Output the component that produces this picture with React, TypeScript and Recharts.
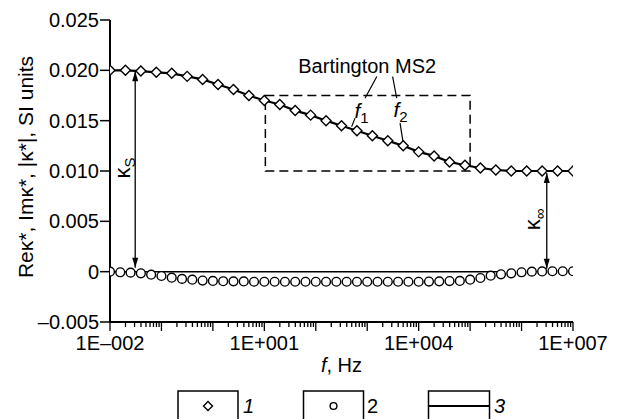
import React from 'react';
import {
  ComposedChart,
  Line,
  Scatter,
  XAxis,
  YAxis,
  ReferenceLine,
  ReferenceArea,
  ReferenceDot,
} from 'recharts';

const FONT = '"Liberation Sans", Arial, Helvetica, sans-serif';

// log10(f, Hz) of the diamond points (series 1) and line (series 3)
const diamondLogF = [
  -2, -1.7, -1.4, -1.1, -0.8, -0.5, -0.2, 0.1, 0.4, 0.7, 1, 1.3, 1.6, 1.9, 2.2, 2.5,
  2.8, 3.1, 3.4, 3.7, 4, 4.3, 4.6, 4.9, 5.2, 5.5, 5.8, 6.1, 6.4, 6.7, 7,
];
const diamondValues = [
  0.02, 0.02, 0.01993, 0.0198, 0.0197, 0.0194, 0.0191, 0.0186, 0.0181, 0.0175, 0.017,
  0.0166, 0.016, 0.01555, 0.015, 0.0145, 0.014, 0.0135, 0.013, 0.0125, 0.0119, 0.0115,
  0.0109, 0.01057, 0.0103, 0.0101, 0.01, 0.01, 0.01, 0.01, 0.01,
];

// log10(f, Hz) of the circle points (series 2)
const circleLogF = [
  -2, -1.8, -1.6, -1.4, -1.2, -1, -0.8, -0.6, -0.4, -0.2, 0, 0.2, 0.4, 0.6, 0.8, 1, 1.2,
  1.4, 1.6, 1.8, 2, 2.2, 2.4, 2.6, 2.8, 3, 3.2, 3.4, 3.6, 3.8, 4, 4.2, 4.4, 4.6, 4.8, 5,
  5.2, 5.4, 5.6, 5.8, 6, 6.2, 6.4, 6.6, 6.8, 7,
];
const circleValues = [
  0, -0.00006, -0.0001, -0.00016, -0.0003, -0.00043, -0.0006, -0.00072, -0.0008,
  -0.00088, -0.00092, -0.00095, -0.00096, -0.00097, -0.001, -0.001, -0.001, -0.001,
  -0.001, -0.001, -0.001, -0.001, -0.001, -0.001, -0.001, -0.001, -0.001, -0.001,
  -0.001, -0.001, -0.001, -0.00098, -0.00096, -0.00093, -0.00092, -0.0008, -0.00063,
  -0.0004, -0.00026, -0.00016, -0.00006, 0, 0.00002, 0.00004, 0.00004, 0.00004,
];

// zero line (series 3, lower part)
const zeroLineLogF = [-2, 5.6];
const zeroLineValues = [0, 0];

const yTicks = [-0.005, 0, 0.005, 0.01, 0.015, 0.02, 0.025];
const xLabelTicks = [-2, 1, 4, 7];
const xDecades = [-2, -1, 0, 1, 2, 3, 4, 5, 6, 7];
const minorMultipliers = [2, 3, 4, 5, 6, 7, 8, 9];

const diamondData = diamondLogF.map((x, i) => ({ x, y: diamondValues[i] }));
const circleData = circleLogF.map((x, i) => ({ x, y: circleValues[i] }));
const zeroData = zeroLineLogF.map((x, i) => ({ x, y: zeroLineValues[i] }));

const xTicks: number[] = [];
xDecades.forEach((d) => {
  xTicks.push(d);
  if (d < 7) minorMultipliers.forEach((m) => xTicks.push(d + Math.log10(m)));
});

const fmtX = (v: number) => {
  const a = Math.abs(Math.round(v));
  return '1E' + (v < 0 ? '\u2013' : '+') + String(a).padStart(3, '0');
};
const fmtY = (v: number) => {
  if (Math.abs(v) < 1e-12) return '0';
  return v < 0 ? '\u2013' + Math.abs(v).toFixed(3) : v.toFixed(3);
};

const Diamond = (p: any) => {
  const { cx, cy } = p;
  const s = 5;
  return (
    <path
      d={`M${cx},${cy - s}L${cx + s},${cy}L${cx},${cy + s}L${cx - s},${cy}Z`}
      fill="#fff"
      stroke="#000"
      strokeWidth={1.4}
    />
  );
};
const Circle = (p: any) => (
  <circle cx={p.cx} cy={p.cy} r={4.4} fill="#fff" stroke="#000" strokeWidth={1.4} />
);

const XTick = (p: any) => {
  const { x, y, payload } = p;
  const v = payload.value;
  const isMajor = Math.abs(v - Math.round(v)) < 1e-9;
  const labeled = isMajor && xLabelTicks.indexOf(Math.round(v)) >= 0;
  return (
    <g>
      <line x1={x} x2={x} y1={y} y2={y + (isMajor ? 9 : 5)} stroke="#000" strokeWidth={1.3} />
      {labeled && (
        <text x={x} y={y + 28} textAnchor="middle" fontSize={20} fill="#000" fontFamily={FONT}>
          {fmtX(v)}
        </text>
      )}
    </g>
  );
};

const ArrowUp = (p: any) => (
  <path d={`M${p.cx},${p.cy}L${p.cx - 3},${p.cy + 10}L${p.cx + 3},${p.cy + 10}Z`} fill="#000" />
);
const ArrowDown = (p: any) => (
  <path d={`M${p.cx},${p.cy}L${p.cx - 3},${p.cy - 10}L${p.cx + 3},${p.cy - 10}Z`} fill="#000" />
);

const TextAt = (content: React.ReactNode, rotate = false, size = 20) => (p: any) => (
  <text
    x={p.cx}
    y={p.cy}
    textAnchor="middle"
    fontSize={size}
    fill="#000"
    fontFamily={FONT}
    transform={rotate ? `rotate(-90 ${p.cx} ${p.cy})` : undefined}
  >
    {content}
  </text>
);

const YLabel = (p: any) => {
  const vb = p.viewBox || { x: 50, y: 20, width: 60, height: 302 };
  const cx = vb.x - 17;
  const cy = vb.y + vb.height / 2 - 4;
  return (
    <text
      x={cx}
      y={cy}
      textAnchor="middle"
      fontSize={21}
      fill="#000"
      fontFamily={FONT}
      transform={`rotate(-90 ${cx} ${cy})`}
    >
      Reκ*, Imκ*, |κ*|, SI units
    </text>
  );
};

const XLabel = (p: any) => {
  const vb = p.viewBox || { x: 110, y: 322, width: 463, height: 40 };
  return (
    <text x={vb.x + vb.width / 2} y={vb.y + 50} textAnchor="middle" fontSize={20} fill="#000" fontFamily={FONT}>
      <tspan fontStyle="italic">f</tspan>, Hz
    </text>
  );
};

const LegendOverlay = () => (
  <svg width={624} height={419} style={{ position: 'absolute', left: 0, top: 0, pointerEvents: 'none' }}>
    <g fill="none" stroke="#000" strokeWidth={1.5}>
      <rect x={178} y={391} width={60} height={40} />
      <rect x={303.5} y={391} width={60} height={40} />
      <rect x={428.5} y={391} width={61} height={40} />
    </g>
    <path d="M208,401.5L212.5,406L208,410.5L203.5,406Z" fill="#fff" stroke="#000" strokeWidth={1.4} />
    <circle cx={333.5} cy={406} r={3.4} fill="#fff" stroke="#000" strokeWidth={1.4} />
    <line x1={428.5} x2={489.5} y1={406} y2={406} stroke="#000" strokeWidth={2} />
    <g fontSize={20} fill="#000" fontFamily={FONT}>
      <text x={243} y={413} fontStyle="italic">1</text>
      <text x={367} y={413}>2</text>
      <text x={494} y={413} fontStyle="italic">3</text>
    </g>
  </svg>
);

export default function App() {
  return (
    <div style={{ position: 'absolute', left: 0, top: 0, width: 624, height: 419, background: '#fff' }}>
      <ComposedChart
        width={624}
        height={419}
        margin={{ top: 20, right: 51, bottom: 57, left: 50 }}
        style={{ fontFamily: FONT }}
      >
        <XAxis
          dataKey="x"
          type="number"
          domain={[-2, 7]}
          ticks={xTicks}
          interval={0}
          allowDataOverflow
          tick={<XTick />}
          tickLine={false}
          tickSize={0}
          tickMargin={0}
          height={40}
          axisLine={{ stroke: '#000', strokeWidth: 2 }}
          label={<XLabel />}
        />
        <YAxis
          dataKey="y"
          type="number"
          domain={[-0.005, 0.025]}
          ticks={yTicks}
          interval={0}
          allowDataOverflow
          width={60}
          tickSize={10}
          tickMargin={1}
          tickFormatter={fmtY}
          tick={{ fill: '#000', fontSize: 20, fontFamily: FONT }}
          tickLine={{ stroke: '#000', strokeWidth: 1.5 }}
          axisLine={{ stroke: '#000', strokeWidth: 2 }}
          label={<YLabel />}
        />
        <ReferenceArea
          x1={1.02}
          x2={5}
          y1={0.01}
          y2={0.0175}
          fill="#fff"
          fillOpacity={0}
          stroke="#000"
          strokeWidth={1.5}
          strokeDasharray="9 5"
        />
        {/* κS arrow */}
        <ReferenceLine segment={[{ x: -1.51, y: 0.0199 }, { x: -1.51, y: 0.0004 }]} stroke="#000" strokeWidth={1.3} />
        <ReferenceDot x={-1.51} y={0.0199} shape={ArrowUp} />
        <ReferenceDot x={-1.51} y={0.0004} shape={ArrowDown} />
        <ReferenceDot
          x={-1.61}
          y={0.0103}
          shape={TextAt(<>κ<tspan fontSize={15} dy={5}>S</tspan></>, true, 22)}
        />
        {/* κ∞ arrow */}
        <ReferenceLine segment={[{ x: 6.49, y: 0.0098 }, { x: 6.49, y: 0.0003 }]} stroke="#000" strokeWidth={1.3} />
        <ReferenceDot x={6.49} y={0.0098} shape={ArrowUp} />
        <ReferenceDot x={6.49} y={0.0003} shape={ArrowDown} />
        <ReferenceDot
          x={6.36}
          y={0.0052}
          shape={TextAt(<>κ<tspan fontSize={15} dy={5}>∞</tspan></>, true, 22)}
        />
        {/* Bartington MS2 annotation */}
        <ReferenceDot x={3.0} y={0.01977} shape={TextAt('Bartington MS2')} />
        <ReferenceLine segment={[{ x: 3.187, y: 0.01938 }, { x: 2.957, y: 0.01723 }]} stroke="#000" strokeWidth={1.2} />
        <ReferenceLine segment={[{ x: 2.763, y: 0.01525 }, { x: 2.697, y: 0.01441 }]} stroke="#000" strokeWidth={1.2} />
        <ReferenceLine segment={[{ x: 3.494, y: 0.01938 }, { x: 3.573, y: 0.01723 }]} stroke="#000" strokeWidth={1.2} />
        <ReferenceLine segment={[{ x: 3.638, y: 0.01475 }, { x: 3.7, y: 0.01277 }]} stroke="#000" strokeWidth={1.2} />
        <ReferenceDot
          x={2.889}
          y={0.0153}
          shape={TextAt(<><tspan fontStyle="italic">f</tspan><tspan fontSize={15} dy={5}>1</tspan></>, false, 21)}
        />
        <ReferenceDot
          x={3.647}
          y={0.01541}
          shape={TextAt(<><tspan fontStyle="italic">f</tspan><tspan fontSize={15} dy={5}>2</tspan></>, false, 21)}
        />
        <Line
          data={zeroData}
          dataKey="y"
          type="linear"
          stroke="#000"
          strokeWidth={1.5}
          dot={false}
          activeDot={false}
          isAnimationActive={false}
        />
        <Line
          data={diamondData}
          dataKey="y"
          type="linear"
          stroke="#000"
          strokeWidth={2.2}
          dot={false}
          activeDot={false}
          isAnimationActive={false}
        />
        <Scatter data={circleData} dataKey="y" shape={Circle} isAnimationActive={false} />
        <Scatter data={diamondData} dataKey="y" shape={Diamond} isAnimationActive={false} />
      </ComposedChart>
      <LegendOverlay />
    </div>
  );
}
